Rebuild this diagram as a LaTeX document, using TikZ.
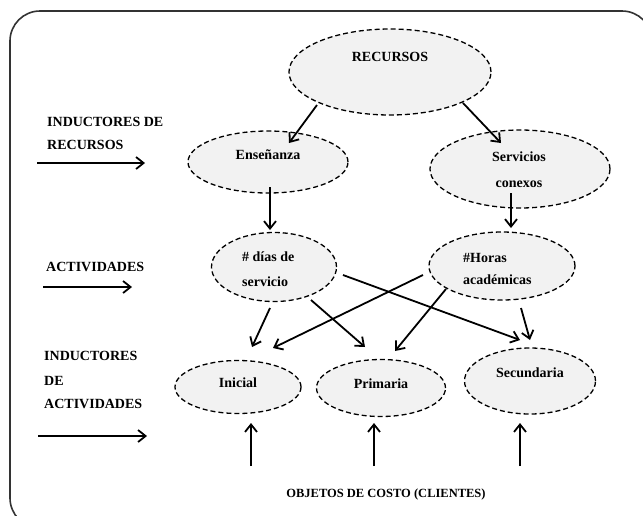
\documentclass[tikz,border=0pt]{standalone}
\usepackage{fontspec}
\setmainfont{Liberation Serif}
\usetikzlibrary{arrows.meta,shapes.geometric}
\definecolor{ellfill}{HTML}{F2F2F2}
\definecolor{framec}{HTML}{333333}
\begin{document}
\begin{tikzpicture}[x=1pt,y=-1pt,
  ell/.style={ellipse, draw=black, dash pattern=on 5pt off 3pt, line width=1.3pt, fill=ellfill, inner sep=0pt},
  arr/.style={line width=1.8pt, -{Straight Barb[length=7.5pt,width=12pt]}},
  txt/.style={font=\fontsize{14}{16}\selectfont\bfseries, inner sep=0pt, text height=9.3pt, text depth=0pt},
  ltxt/.style={txt, anchor=west},
  small/.style={font=\fontsize{12.5}{14}\selectfont\bfseries, inner sep=0pt, text height=8.3pt, text depth=0pt}]
\useasboundingbox (0,0) rectangle (643,515);
\fill[white] (0,0) rectangle (643,515);
\draw[framec, line width=1.6pt, rounded corners=30pt] (10,11) rectangle (652,528);

% ellipses
\node[ell, minimum width=202pt, minimum height=86pt] (rec) at (390,72) {};
\node[ell, minimum width=160pt, minimum height=62pt] (ens) at (268,162) {};
\node[ell, minimum width=180pt, minimum height=78pt] (ser) at (520,169) {};
\node[ell, minimum width=125pt, minimum height=69pt] (dia) at (274,267) {};
\node[ell, minimum width=146pt, minimum height=68pt] (hor) at (502,266) {};
\node[ell, minimum width=126pt, minimum height=53pt] (ini) at (238,387) {};
\node[ell, minimum width=129pt, minimum height=57pt] (pri) at (381,388) {};
\node[ell, minimum width=131pt, minimum height=66pt] (sec) at (530,381) {};

% ellipse texts
\node[txt] (recT) at (390,57) {RECURSOS};
\node[txt] (ensT) at (268,155) {Enseñanza};
\node[txt] (serT1) at (519,157) {Servicios};
\node[txt] (serT2) at (519,183) {conexos};
\node[ltxt] (diaT1) at (242,257) {\# días de};
\node[ltxt] (diaT2) at (242,282) {servicio};
\node[ltxt] (horT1) at (463,258) {\#Horas};
\node[ltxt] (horT2) at (463,280) {académicas};
\node[txt] (iniT) at (238,383) {Inicial};
\node[txt] (priT) at (381,384) {Primaria};
\node[txt] (secT) at (530,373) {Secundaria};

% left labels
\node[ltxt] (l1a) at (47,122) {INDUCTORES DE};
\node[ltxt] (l1b) at (47,145) {RECURSOS};
\node[ltxt] (l2) at (46,267) {ACTIVIDADES};
\node[ltxt] (l3a) at (44,356) {INDUCTORES};
\node[ltxt] (l3b) at (44,381) {DE};
\node[ltxt] (l3c) at (44,404) {ACTIVIDADES};
\node[small] (obj) at (386,493) {OBJETOS DE COSTO (CLIENTES)};

% free ends
\coordinate (a1s) at (37,163); \coordinate (a1e) at (145,163);
\coordinate (a2s) at (43,287); \coordinate (a2e) at (132,287);
\coordinate (a3s) at (38,436); \coordinate (a3e) at (147,436);
\coordinate (u1) at (251,466);
\coordinate (u2) at (374,466);
\coordinate (u3) at (520,466);

\draw[arr] (a1s) -- (a1e);
\draw[arr] (a2s) -- (a2e);
\draw[arr] (a3s) -- (a3e);

% connectors
\draw[arr] ([shift={(-73,33)}]rec.center) -- ([shift={(21,-19)}]ens.center);
\draw[arr] ([shift={(73,31)}]rec.center) -- ([shift={(-19,-26)}]ser.center);
\draw[arr] ([shift={(2,25)}]ens.center) -- ([shift={(-4,-37)}]dia.center);
\draw[arr] ([shift={(-9,24)}]ser.center) -- ([shift={(9,-38)}]hor.center);
\draw[arr] ([shift={(-4,41)}]dia.center) -- ([shift={(14,-40)}]ini.center);
\draw[arr] ([shift={(37,33)}]dia.center) -- ([shift={(-16,-41)}]pri.center);
\draw[arr] ([shift={(69,8)}]dia.center) -- ([shift={(-10,-41)}]sec.center);
\draw[arr] ([shift={(-79,9)}]hor.center) -- ([shift={(35,-39)}]ini.center);
\draw[arr] ([shift={(-56,23)}]hor.center) -- ([shift={(14,-37)}]pri.center);
\draw[arr] ([shift={(19,42)}]hor.center) -- ([shift={(0,-41)}]sec.center);
\draw[arr] (u1) -- ([shift={(13,36)}]ini.center);
\draw[arr] (u2) -- ([shift={(-7,35)}]pri.center);
\draw[arr] (u3) -- ([shift={(-10,42)}]sec.center);
\end{tikzpicture}
\end{document}
